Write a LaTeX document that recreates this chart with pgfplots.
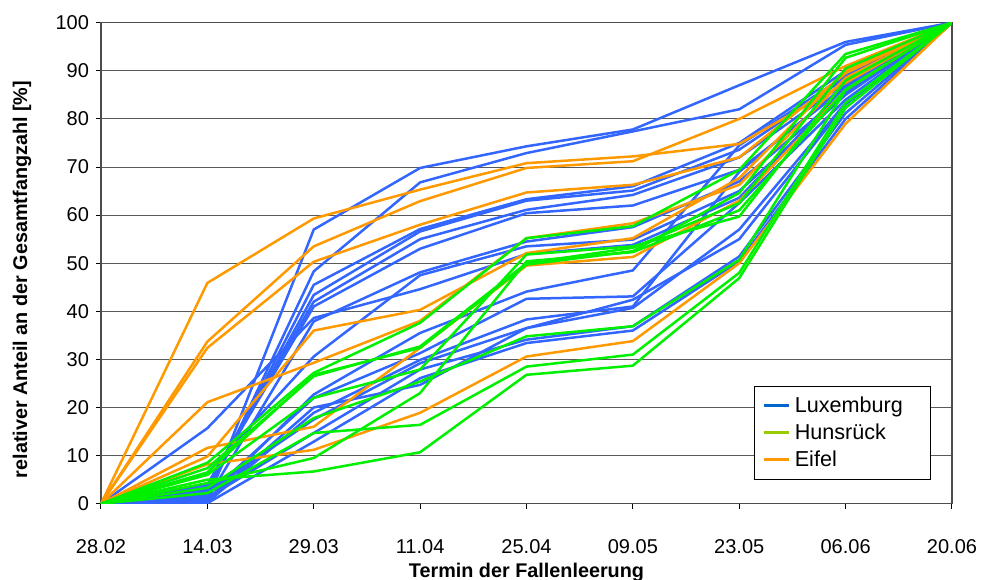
\documentclass[border=0pt]{standalone}
\usepackage{fontspec}
\setmainfont{Liberation Sans}
\usepackage{pgfplots}
\usepackage{pgfplotstable}
\pgfplotsset{compat=1.18}
\definecolor{lux}{RGB}{51,102,255}
\definecolor{luxleg}{RGB}{0,102,204}
\definecolor{hun}{RGB}{0,240,0}
\definecolor{hunleg}{RGB}{153,204,0}
\definecolor{eif}{RGB}{255,153,0}

\pgfplotstableread{
x B1 B2 B3 B4 B5 B6 B7 B8 B9 B10 B11 B12 B13 B14 B15 B16
0 0 0 0 0 0 0 0 0 0 0 0 0 0 0 0 0
1 0.5 1.5 2.2 2.9 4.0 3.6 1.0 6.4 15.7 0.8 1.8 0.3 2.5 1.2 0.1 0.6
2 57.0 48.3 45.5 43.4 42.0 41.0 37.9 30.6 38.6 22.7 22.0 18.9 17.5 14.7 12.9 20.0
3 69.8 66.8 57.1 56.6 55.0 53.0 48.1 47.5 44.6 35.5 31.3 29.9 29.2 27.9 26.1 24.7
4 74.3 72.9 63.3 63.0 61.1 60.4 54.5 53.5 51.9 44.1 42.6 38.3 36.5 34.1 33.4 36.5
5 77.8 77.4 66.0 65.1 64.2 62.0 57.5 54.9 53.8 48.5 43.1 41.0 40.7 36.9 36.0 42.4
6 87.0 82.0 75.0 73.6 72.0 69.4 67.0 65.0 63.6 74.5 62.5 69.0 57.0 51.4 50.4 55.0
7 96.0 95.4 90.0 88.5 87.5 86.5 85.5 85.0 86.8 89.0 84.0 87.0 83.3 81.2 80.0 83.0
8 100 100 100 100 100 100 100 100 100 100 100 100 100 100 100 100
}\bluedata

\pgfplotstableread{
x G1 G2 G3 G4 G5 G6 G7 G8
0 0 0 0 0 0 0 0 0
1 8.5 7.4 6.5 6.0 4.3 3.3 2.2 5.0
2 27.2 26.5 26.8 22.0 9.5 17.8 14.7 6.7
3 37.6 32.7 32.4 27.9 23.0 25.4 16.4 10.7
4 55.2 50.0 49.7 51.8 50.4 34.8 28.5 26.8
5 57.7 53.2 52.5 53.5 52.3 36.9 31.0 28.7
6 69.4 62.5 64.6 59.7 61.0 50.7 48.0 46.9
7 93.5 90.5 92.7 88.0 86.1 86.0 83.3 82.3
8 100 100 100 100 100 100 100 100
}\greendata

\pgfplotstableread{
x O1 O2 O3 O4 O5 O6 O7
0 0 0 0 0 0 0 0
1 45.9 33.7 32.4 9.8 21.1 8.2 11.6
2 59.3 53.5 50.3 36.0 29.3 11.2 16.0
3 65.3 62.9 58.0 40.3 38.0 18.9 32.4
4 70.8 69.8 64.7 52.1 55.2 30.6 49.5
5 72.2 71.2 66.3 55.2 58.3 33.8 51.3
6 74.8 80.0 72.0 67.7 66.3 50.0 63.0
7 87.5 91.0 89.5 90.0 88.5 79.0 86.0
8 100 100 100 100 100 100 100
}\orangedata

\begin{document}
\begin{tikzpicture}
\begin{axis}[
  scale only axis, width=425.5pt, height=240.5pt,
  xmin=0, xmax=8, ymin=0, ymax=100,
  xtick={0,...,8},
  xticklabels={28.02,14.03,29.03,11.04,25.04,09.05,23.05,06.06,20.06},
  ytick={0,10,...,100},
  xtick pos=bottom, ytick pos=left,
  tick align=outside, major tick length=2.5pt,
  tick style={black, line width=0.5pt},
  ymajorgrids, grid style={black!65, line width=0.5pt},
  axis line style={black!70, line width=0.6pt},
  /pgf/number format/assume math mode=true,
  tick label style={font=\fontsize{10}{12}\selectfont},
  xticklabel style={yshift=-12pt},
  xlabel={Termin der Fallenleerung},
  ylabel={relativer Anteil an der Gesamtfangzahl [\%]},
  label style={font=\bfseries\fontsize{9.9}{12}\selectfont},
  xlabel style={at={(axis description cs:0.5,-0.1435)}, anchor=center},
  ylabel style={at={(axis description cs:-0.0928,0.466)}, anchor=center},
  legend cell align=left,
  legend style={at={(axis description cs:0.767,0.05)}, anchor=south west,
    draw=black, fill=white, line width=0.5pt,
    font=\fontsize{10.8}{12}\selectfont, row sep=0.2pt,
    inner xsep=4pt, inner ysep=3pt},
  legend image code/.code={\draw[#1, line width=1.5pt] (0cm,0cm) -- (0.45cm,0cm);},
  every axis plot/.append style={line width=1.25pt, line join=round, no markers},
]
\pgfplotsinvokeforeach{B1,B2,B3,B4,B5,B6,B7,B8,B9,B10,B11,B12,B13,B14,B15,B16}{
  \addplot[lux, forget plot] table[x=x, y=#1] {\bluedata};
}
\pgfplotsinvokeforeach{O1,O2,O3,O4,O5,O6,O7}{
  \addplot[eif, forget plot] table[x=x, y=#1] {\orangedata};
}
\pgfplotsinvokeforeach{G1,G2,G3,G4,G5,G6,G7,G8}{
  \addplot[hun, forget plot] table[x=x, y=#1] {\greendata};
}
\addlegendimage{luxleg}\addlegendentry{Luxemburg\hspace*{8pt}}
\addlegendimage{hunleg}\addlegendentry{Hunsrück}
\addlegendimage{eif}\addlegendentry{Eifel}
\end{axis}
\pgfresetboundingbox
\path[use as bounding box] (-50.5pt,-38pt) rectangle (445pt,251.85pt);
\end{tikzpicture}
\end{document}
